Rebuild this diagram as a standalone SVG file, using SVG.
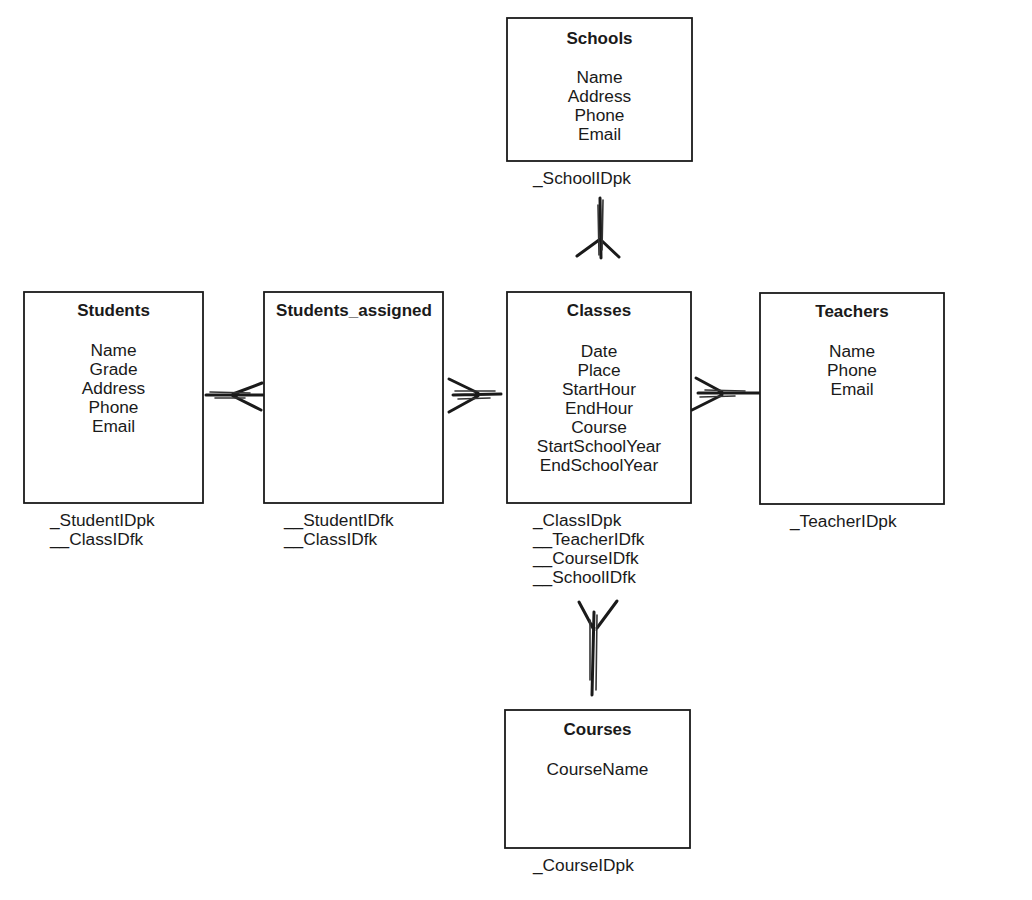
<svg xmlns="http://www.w3.org/2000/svg" width="1032" height="900" viewBox="0 0 1032 900">
<style>
.box{fill:#fff;stroke:#1a1a1a;stroke-width:1.8}
text{font-family:"Liberation Sans",Arial,sans-serif;font-size:17.3px;fill:#1a1a1a}
.t{font-weight:bold;text-anchor:middle;font-size:17px}
.c{text-anchor:middle}
.k{text-anchor:start}
.cn{fill:none;stroke:#1a1a1a;stroke-width:3;stroke-linecap:round}
.cn2{fill:none;stroke:#333;stroke-width:1.6;stroke-linecap:round}
</style>
<rect width="1032" height="900" fill="#fff"/>
<g id="connectors">
<!-- Schools - Classes -->
<path class="cn" d="M600 198 L601 258 M599 240 L577 256 M601 240 L619 257"/>
<path class="cn2" d="M598 205 L599 255 M603 200 L602 250"/>
<!-- Students - Students_assigned -->
<path class="cn" d="M206 395 L263 395 M233 394 L262 383 M233 396 L261 410"/>
<path class="cn2" d="M210 392 L250 393 M215 398 L245 398"/>
<!-- Students_assigned - Classes -->
<path class="cn" d="M453 395 L501 394 M449 379 L478 393 M449 412 L478 396"/>
<path class="cn2" d="M455 391 L495 391 M458 399 L490 398"/>
<!-- Classes - Teachers -->
<path class="cn" d="M698 393 L760 393 M696 378 L722 392 M692 410 L722 395"/>
<path class="cn2" d="M705 390 L745 391 M700 397 L735 396"/>
<!-- Classes - Courses -->
<path class="cn" d="M594 612 L592 695 M579 602 L594 630 M617 601 L597 628"/>
<path class="cn2" d="M597 615 L596 690 M590 620 L590 680"/>
</g>
<g id="schools">
<rect class="box" x="507" y="18" width="185" height="143"/>
<text class="t" x="599.5" y="44">Schools</text>
<text class="c" x="599.5" y="83">Name</text>
<text class="c" x="599.5" y="102">Address</text>
<text class="c" x="599.5" y="121">Phone</text>
<text class="c" x="599.5" y="140">Email</text>
<text class="k" x="533" y="184">_SchoolIDpk</text>
</g>
<g id="students">
<rect class="box" x="24" y="292" width="179" height="211"/>
<text class="t" x="113.5" y="316">Students</text>
<text class="c" x="113.5" y="356">Name</text>
<text class="c" x="113.5" y="375">Grade</text>
<text class="c" x="113.5" y="394">Address</text>
<text class="c" x="113.5" y="413">Phone</text>
<text class="c" x="113.5" y="432">Email</text>
<text class="k" x="50" y="526">_StudentIDpk</text>
<text class="k" x="50" y="545">__ClassIDfk</text>
</g>
<g id="students_assigned">
<rect class="box" x="264" y="292" width="179" height="211"/>
<text class="t" x="354" y="316">Students_assigned</text>
<text class="k" x="284" y="526">__StudentIDfk</text>
<text class="k" x="284" y="545">__ClassIDfk</text>
</g>
<g id="classes">
<rect class="box" x="507" y="292" width="184" height="211"/>
<text class="t" x="599" y="316">Classes</text>
<text class="c" x="599" y="357">Date</text>
<text class="c" x="599" y="376">Place</text>
<text class="c" x="599" y="395">StartHour</text>
<text class="c" x="599" y="414">EndHour</text>
<text class="c" x="599" y="433">Course</text>
<text class="c" x="599" y="452">StartSchoolYear</text>
<text class="c" x="599" y="471">EndSchoolYear</text>
<text class="k" x="533" y="526">_ClassIDpk</text>
<text class="k" x="533" y="545">__TeacherIDfk</text>
<text class="k" x="533" y="564">__CourseIDfk</text>
<text class="k" x="533" y="583">__SchoolIDfk</text>
</g>
<g id="teachers">
<rect class="box" x="760" y="293" width="184" height="211"/>
<text class="t" x="852" y="317">Teachers</text>
<text class="c" x="852" y="357">Name</text>
<text class="c" x="852" y="376">Phone</text>
<text class="c" x="852" y="395">Email</text>
<text class="k" x="790" y="527">_TeacherIDpk</text>
</g>
<g id="courses">
<rect class="box" x="505" y="710" width="185" height="138"/>
<text class="t" x="597.5" y="735">Courses</text>
<text class="c" x="597.5" y="775">CourseName</text>
<text class="k" x="533" y="871">_CourseIDpk</text>
</g>
</svg>
